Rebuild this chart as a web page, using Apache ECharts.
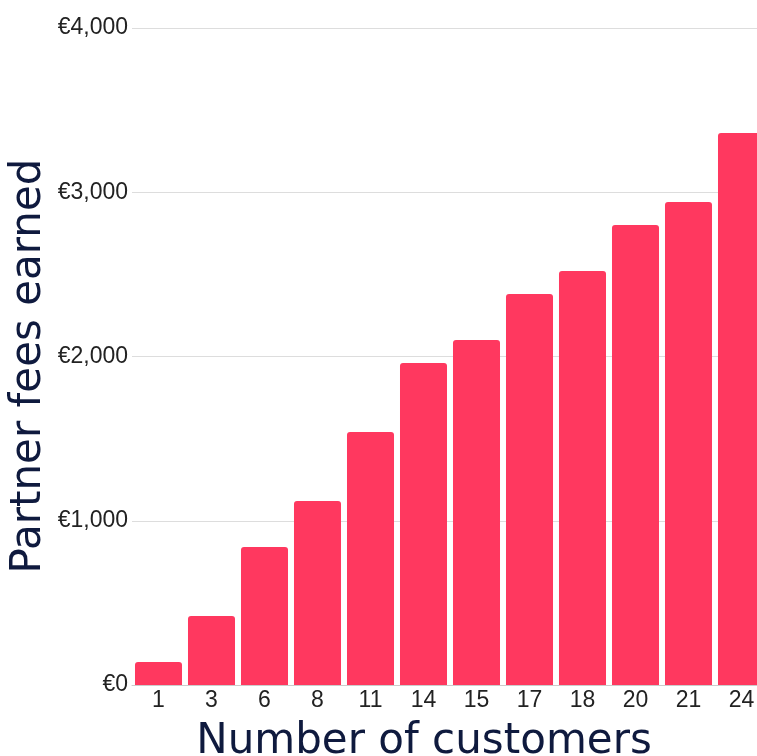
<!DOCTYPE html>
<html>
<head>
<meta charset="utf-8">
<script src="https://cdn.jsdelivr.net/npm/echarts@6/dist/echarts.min.js"></script>
<style>html,body{margin:0;padding:0;background:#fff}#c{width:757px;height:756px}</style>
</head>
<body>
<div id="c"></div>
<script>
const categories = ['1','3','6','8','11','14','15','17','18','20','21','24'];
const fees = [140, 420, 840, 1120, 1540, 1960, 2100, 2380, 2520, 2800, 2940, 3360];
const yTicks = { min: 0, max: 4000, interval: 1000 };

const chart = echarts.init(document.getElementById('c'), null, {renderer: 'canvas'});
chart.setOption({
  animation: false,
  grid: { left: 132, right: -11, top: 28, bottom: 71, containLabel: false, outerBoundsMode: 'none' },
  xAxis: {
    type: 'category',
    data: categories,
    name: 'Number of customers',
    nameLocation: 'middle',
    nameGap: 36,
    nameTextStyle: { fontFamily: 'DejaVu Sans', fontSize: 42, color: '#0f1a3e', padding: [0, 52, 0, 0] },
    axisLine: { show: true, lineStyle: { color: '#cccccc', width: 1 } },
    axisTick: { show: false },
    axisLabel: { fontFamily: 'Liberation Sans', fontSize: 23, color: '#222', margin: 4 }
  },
  yAxis: {
    type: 'value',
    min: yTicks.min, max: yTicks.max, interval: yTicks.interval,
    name: 'Partner fees earned',
    nameLocation: 'middle',
    nameGap: 82,
    nameMoveOverlap: false,
    nameTextStyle: { fontFamily: 'DejaVu Sans', fontSize: 42, color: '#0f1a3e', padding: [0, 19, 0, 0] },
    axisLine: { show: false },
    axisTick: { show: false },
    splitLine: { lineStyle: { color: '#dddddd', width: 1 } },
    axisLabel: {
      fontFamily: 'Liberation Sans', fontSize: 23, color: '#222', margin: 4,
      formatter: v => '€' + v.toLocaleString('en-US')
    }
  },
  series: [{
    type: 'bar',
    data: fees,
    barCategoryGap: '11.3%',
    itemStyle: { color: '#ff385f', borderRadius: [3, 3, 0, 0] }
  }]
});
</script>
</body>
</html>
